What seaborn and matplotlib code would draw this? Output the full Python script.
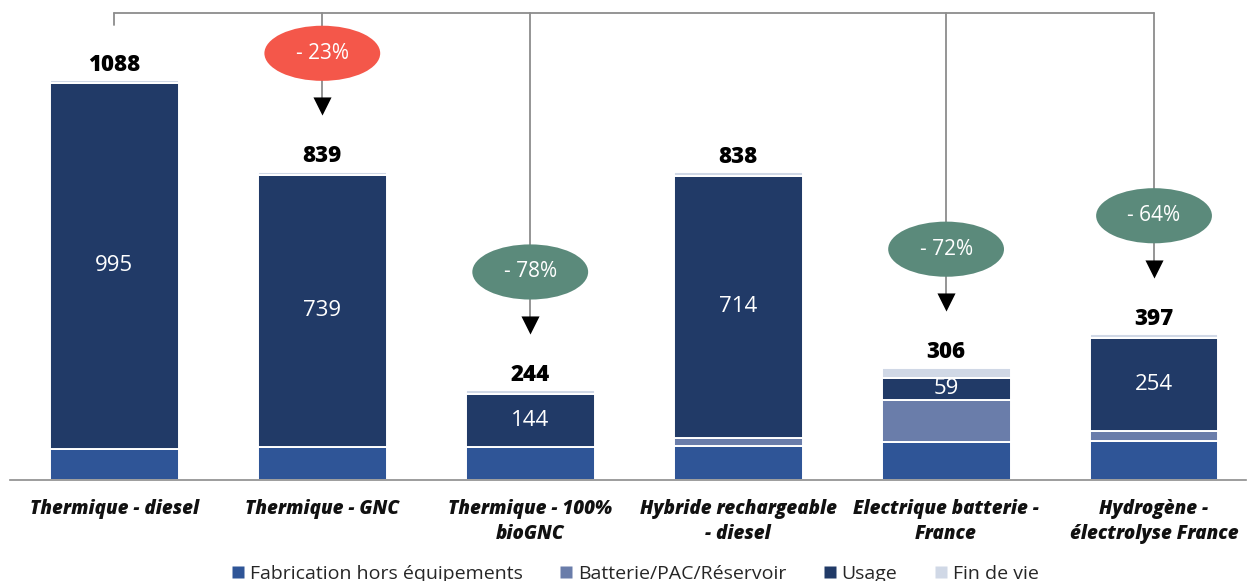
import matplotlib
matplotlib.use("Agg")
import matplotlib.pyplot as plt
from matplotlib.patches import Ellipse
from matplotlib.lines import Line2D
import numpy as np
import seaborn as sns

# Émissions sur le cycle de vie par motorisation (gCO2e/km)
categories = [
    "Thermique - diesel",
    "Thermique - GNC",
    "Thermique - 100%\nbioGNC",
    "Hybride rechargeable\n- diesel",
    "Electrique batterie -\nFrance",
    "Hydrogène -\nélectrolyse France",
]
fabrication = [85, 91, 91, 93, 104, 105]
batterie = [0, 0, 0, 21, 115, 28]
usage = [995, 739, 144, 714, 59, 254]
fin_de_vie = [8, 9, 9, 10, 28, 10]

series_names = ["Fabrication hors équipements", "Batterie/PAC/Réservoir", "Usage", "Fin de vie"]
series_colors = ["#2F5597", "#6A7DAA", "#213A67", "#D0D8E6"]

# Comparaisons affichées par rapport au diesel
compare_idx = [1, 2, 4, 5]
bubble_colors = {1: "#F4574A", 2: "#5B8A7B", 4: "#5B8A7B", 5: "#5B8A7B"}

sns.set_theme(style="white")
plt.rcParams["font.family"] = ["Open Sans", "DejaVu Sans"]

fig = plt.figure(figsize=(12.58, 5.81), dpi=100)
ax = fig.add_axes([0, 101 / 581, 1, 480 / 581])

series = [fabrication, batterie, usage, fin_de_vie]
bottom = np.zeros(len(categories))
x_idx = np.arange(len(categories))
for vals, col in zip(series, series_colors):
    sns.barplot(x=x_idx, y=vals, bottom=bottom, color=col, width=0.62,
                saturation=1, edgecolor="white", linewidth=1.4, ax=ax,
                native_scale=True)
    bottom = bottom + np.array(vals)
totals = bottom

ax.set_xlim(-0.55, 5.44)
ax.set_ylim(0, 1306)
ax.set_yticks([])
ax.set_ylabel("")
for s in ["top", "left", "right"]:
    ax.spines[s].set_visible(False)
ax.spines["bottom"].set_color("#8C8C8C")
ax.spines["bottom"].set_linewidth(1.2)
ax.spines["bottom"].set_bounds(-0.5, 5.44)

# Graduations aux frontières des catégories, étiquettes au centre
ax.set_xticks(np.arange(-0.5, 6.0, 1.0))
ax.set_xticklabels([])
ax.tick_params(axis="x", which="major", length=10, width=1.2, color="#8C8C8C", direction="out")
ax.set_xticks(x_idx, minor=True)
ax.set_xticklabels(categories, minor=True, fontsize=13.5, fontweight="heavy",
                   fontstyle="italic", color="#111111", linespacing=1.3)
ax.tick_params(axis="x", which="minor", length=0, pad=14)

# Valeurs d'usage dans les barres
for i in x_idx:
    yc = fabrication[i] + batterie[i] + usage[i] / 2
    ax.text(i, yc, f"{usage[i]}", ha="center", va="center", color="white",
            fontsize=16, fontweight="normal")

# Totaux au-dessus des barres
for i in x_idx:
    ax.text(i, totals[i] + 9, f"{int(totals[i])}", ha="center", va="bottom",
            color="black", fontsize=16, fontweight="heavy")

# Accolade de comparaison
line_col = "#8C8C8C"
y_bracket = 1271
ax.plot([0, 5], [y_bracket, y_bracket], color=line_col, lw=1.3, clip_on=False)
ax.plot([0, 0], [y_bracket, totals[0] + 150], color=line_col, lw=1.3)

ew, eh = 0.557, 150
for i in compare_idx:
    yc = totals[i] + 322
    tip_c = totals[i] + 178
    ax.plot([i, i], [y_bracket, tip_c], color=line_col, lw=1.3, zorder=2)
    ax.add_patch(Ellipse((i, yc), ew, eh, facecolor=bubble_colors[i],
                         edgecolor="none", zorder=3))
    pct = round((totals[i] - totals[0]) / totals[0] * 100)
    ax.text(i, yc, f"- {abs(pct)}%", ha="center", va="center", color="white",
            fontsize=15, fontweight="normal", zorder=4)
    ax.scatter([i], [tip_c], marker="v", s=170, color="black", zorder=4,
               linewidths=0)

# Légende
handles = [Line2D([0], [0], marker="s", linestyle="none", markersize=8,
                  markerfacecolor=c, markeredgecolor="none") for c in series_colors]
fig.legend(handles, series_names, loc="center", bbox_to_anchor=(0.5035, 1 - 574 / 581),
           ncol=4, frameon=False, fontsize=14, handletextpad=0.1,
           columnspacing=1.75, handlelength=1.0)

fig.savefig("out.png", dpi=100)
